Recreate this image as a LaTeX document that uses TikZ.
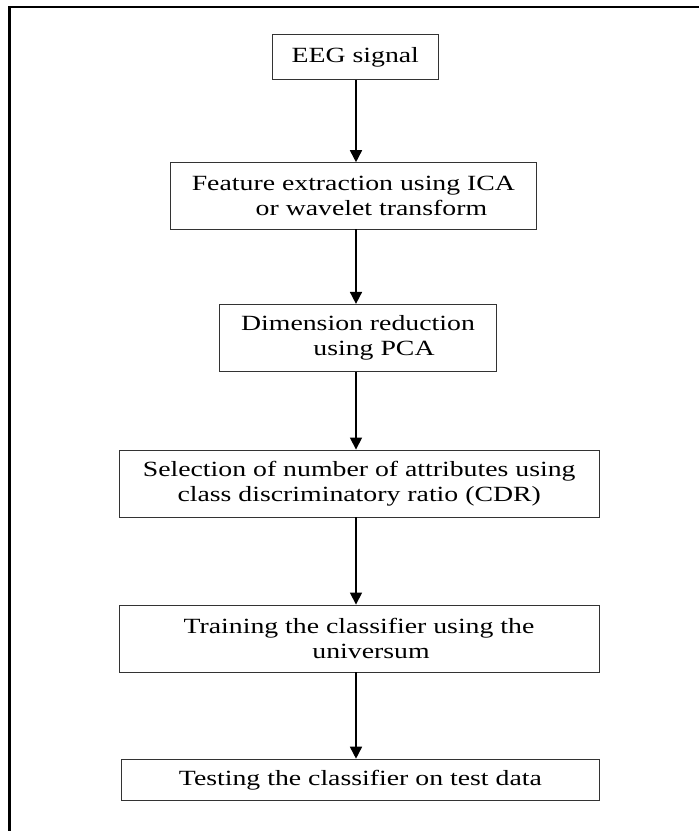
\documentclass[tikz,border=0pt]{standalone}
\usepackage{fontspec}
\setmainfont{Liberation Serif}[FakeStretch=1.28]
\usetikzlibrary{arrows.meta}
\begin{document}
\begin{tikzpicture}[x=1pt,y=-1pt,
  box/.style={draw=black!80, line width=0.9pt, rectangle, inner sep=0pt, align=center,
    font=\fontsize{21.7}{25}\selectfont},
  flow/.style={line width=1.6pt, -{Triangle[width=12pt,length=12pt]}}]
\useasboundingbox (0,0) rectangle (699,831);
\draw[line width=2.5pt, line join=miter] (9.7,832) -- (9.7,6.8) -- (700,6.8);
\node[box, minimum width=166pt, minimum height=44.6pt] (eeg) at (355.3,57) {EEG signal};
\node[box, minimum width=366.7pt, minimum height=66.3pt] (feat) at (353.4,195.8)
  {Feature extraction using ICA\\\hspace*{36pt}or wavelet transform};
\node[box, minimum width=277.4pt, minimum height=66.7pt] (dim) at (358,337.7)
  {Dimension reduction\\\hspace*{32pt}using PCA};
\node[box, minimum width=479.7pt, minimum height=67pt] (sel) at (359.2,483.5)
  {Selection of number of attributes using\\class discriminatory ratio (CDR)};
\node[box, minimum width=480pt, minimum height=67pt] (train) at (359,638.5)
  {Training the classifier using the\\\hspace*{24pt}universum};
\node[box, minimum width=477.3pt, minimum height=41.7pt] (test) at (360.4,780)
  {Testing the classifier on test data};
\coordinate (axis) at (356,0);
\draw[flow] (eeg.south -| axis) -- (feat.north -| axis);
\draw[flow] (feat.south -| axis) -- (dim.north -| axis);
\draw[flow] (dim.south -| axis) -- (sel.north -| axis);
\draw[flow] (sel.south -| axis) -- (train.north -| axis);
\draw[flow] (train.south -| axis) -- (test.north -| axis);
\end{tikzpicture}
\end{document}
